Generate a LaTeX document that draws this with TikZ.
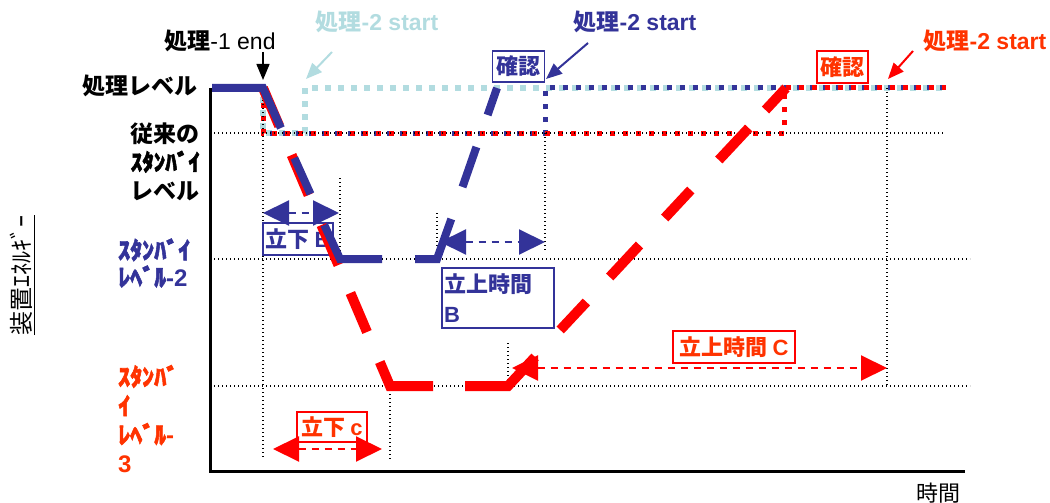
\documentclass[tikz,border=0pt]{standalone}
\usepackage{fontspec}
\setmainfont{Liberation Sans}
\newfontfamily\jp{Noto Sans CJK JP}
\newfontfamily\jphw{Noto Sans CJK JP}[BoldFeatures={FakeBold=2.2}]
\usetikzlibrary{arrows.meta}
\definecolor{myblue}{RGB}{51,51,153}
\definecolor{mycyan}{RGB}{178,220,224}
\definecolor{myred}{RGB}{255,0,0}
\definecolor{txtred}{RGB}{255,51,0}
\newcommand\latn[1]{{\rmfamily\bfseries #1}}
\newcommand\hw[1]{{\jphw\bfseries #1}}
\tikzset{
  dotblk/.style={black, line width=1.2pt, dash pattern=on 1.2pt off 2.8pt},
  sqcyan/.style={mycyan, line width=6pt, dash pattern=on 6pt off 7pt},
  sqblue/.style={myblue, line width=5pt, dash pattern=on 5pt off 8pt, dash phase=6pt},
  sqred/.style={myred, line width=5pt, dash pattern=on 5pt off 8pt, dash phase=2pt},
  thickB/.style={myblue, line width=8pt, line join=miter},
  thickR/.style={myred, line width=10pt, line join=miter},
  lbl/.style={inner sep=0pt, font=\fontsize{23}{28}\selectfont},
  jlbl/.style={inner sep=0pt, font=\jp\bfseries\fontsize{23}{28.5}\selectfont},
  boxB/.style={draw=myblue, text=myblue, line width=1.8pt, inner sep=0pt, font=\jp\bfseries\fontsize{22}{30}\selectfont},
  boxR/.style={draw=myred, text=txtred, line width=1.8pt, inner sep=0pt, font=\jp\bfseries\fontsize{22}{30}\selectfont},
  ptr/.style={line width=2pt, -{Triangle[length=16pt,width=13pt]}},
  dbl/.style={line width=2pt, dash pattern=on 7pt off 6pt, {Triangle[length=26pt,width=25pt]}-{Triangle[length=26pt,width=25pt]}},
}
\begin{document}
\begin{tikzpicture}[x=1pt,y=-1pt]
\useasboundingbox (0,0) rectangle (1050,503);

% coloured square-dotted reference paths
\draw[sqcyan] (263,97) -- (263,133) -- (305,133) -- (305,88) -- (946,88);
\draw[sqblue] (263,133) -- (545,133) -- (545,88) -- (946,88);
\draw[sqred] (263,92) -- (263,133) -- (784,133) -- (784,88) -- (946,88);

% black dotted level lines
\draw[dotblk] (210,133) -- (945,133);
\draw[dotblk] (210,259) -- (970,259);
\draw[dotblk] (210,386) -- (970,386);
% black dotted verticals
\draw[dotblk] (263,88) -- (263,457);
\draw[dotblk] (340,178) -- (340,262);
\draw[dotblk] (437,213) -- (437,260);
\draw[dotblk] (545,133) -- (545,250);
\draw[dotblk] (390,386) -- (390,460);
\draw[dotblk] (508,343) -- (508,386);
\draw[dotblk] (887,88) -- (887,386);

% axes
\draw[line width=3pt] (210,88) -- (210,471) -- (965,471);

% boxes
\node[boxB, minimum width=52pt, minimum height=31pt] (kakB) at (518.5,66.5) {確認};
\node[boxR, minimum width=51pt, minimum height=32pt] (kakR) at (842.5,67) {確認};
\node[boxB, minimum width=70pt, minimum height=32pt] (fallB) at (298,239) {立下 \latn{B}};
\node[boxB, inner xsep=2pt, text width=108pt, align=left, minimum height=60pt] (riseB) at (498,298) {立上時間\\\latn{B}};
\node[boxR, minimum width=122pt, minimum height=32pt] (riseC) at (734,347) {立上時間 \latn{C}};
\node[boxR, minimum width=70pt, minimum height=30pt] (fallC) at (332,427) {立下 \latn{c}};

% thick red dashed curve
\draw[thickR] (263,88) -- (279.2,126);
\draw[thickR] (291.6,155) -- (308.6,195);
\draw[thickR] (321.4,225) -- (338.4,265);
\draw[thickR] (350.4,293) -- (367,332);
\draw[thickR] (379.8,362) -- (390,386) -- (433,386);
\draw[thickR] (465,386) -- (508,386) -- (535.1,357);
\draw[thickR] (560.2,330) -- (586.4,302);
\draw[thickR] (609.7,277) -- (639.5,245);
\draw[thickR] (664.7,218) -- (690.8,190);
\draw[thickR] (718.8,160) -- (748.7,128);
\draw[thickR] (765.5,110) -- (786,88);

% thick blue dashed curve
\draw[thickB] (212,88) -- (263,88) -- (280.9,128);
\draw[thickB] (294.3,158) -- (310.5,194);
\draw[thickB] (324.3,225) -- (340,259) -- (382,259);
\draw[thickB] (415,259) -- (437,259) -- (451.3,219);
\draw[thickB] (462.5,187) -- (476.4,147);
\draw[thickB] (487.6,115) -- (497,88);

% time-span arrows
\coordinate (fbL) at (263,213); \coordinate (fbR) at (339,213);
\coordinate (rbL) at (440,242); \coordinate (rbR) at (545,242);
\coordinate (rcL) at (512,368); \coordinate (rcR) at (887,368);
\coordinate (fcL) at (273,449); \coordinate (fcR) at (382,449);
\draw[dbl, myblue] (fbL) -- (fbR);
\draw[dbl, myblue] (rbL) -- (rbR);
\draw[dbl, myred] (rcL) -- (rcR);
\draw[dbl, myred] (fcL) -- (fcR);

% top labels and pointers
\node[lbl] (end1) at (220,41) {{\jp\bfseries 処理}-1 end};
\node[lbl, text=mycyan] (st2c) at (377,22) {{\jp\bfseries 処理}\bfseries -2 start};
\node[lbl, text=myblue] (st2b) at (635,22) {{\jp\bfseries 処理}\bfseries -2 start};
\node[lbl, text=txtred] (st2r) at (985,41) {{\jp\bfseries 処理}\bfseries -2 start};
\coordinate (e1a) at (263,52); \coordinate (e1b) at (263,80);
\coordinate (cya) at (332,52); \coordinate (cyb) at (306,79);
\coordinate (bla) at (588,43); \coordinate (blb) at (546,79);
\coordinate (rda) at (913,51); \coordinate (rdb) at (888,79);
\draw[ptr, black, line width=1.5pt] (e1a) -- (e1b);
\draw[ptr, mycyan] (cya) -- (cyb);
\draw[ptr, myblue] (bla) -- (blb);
\draw[ptr, myred] (rda) -- (rdb);

% left labels
\node[jlbl, anchor=east] (proclvl) at (198,86) {処理レベル};
\node[jlbl, anchor=east, align=right] (convlvl) at (200,161.5) {従来の\\\hw{ｽﾀﾝﾊﾞｲ}\\レベル};
\node[jlbl, anchor=west, align=left, text=myblue, font=\jp\bfseries\fontsize{24}{27}\selectfont] (sb2) at (118,263) {\hw{ｽﾀﾝﾊﾞｲ}\\\hw{ﾚﾍﾞﾙ}\latn{-2}};
\node[jlbl, anchor=west, align=left, text=txtred, font=\jp\bfseries\fontsize{24}{29}\selectfont] (sb3) at (118,419) {\hw{ｽﾀﾝﾊﾞ}\\\hw{ｲ}\\\hw{ﾚﾍﾞﾙ}\latn{-}\\\latn{3}};

% axis titles
\node[inner sep=0pt, rotate=90, font=\jp\fontsize{24}{24}\selectfont] (yax) at (21,275) {装置ｴﾈﾙｷﾞｰ};
\draw[line width=1.5pt] ([xshift=2pt]yax.south west) -- ([xshift=2pt]yax.south east);
\node[inner sep=0pt, font=\jp\fontsize{22}{22}\selectfont] (xax) at (938,493) {時間};
\end{tikzpicture}
\end{document}
